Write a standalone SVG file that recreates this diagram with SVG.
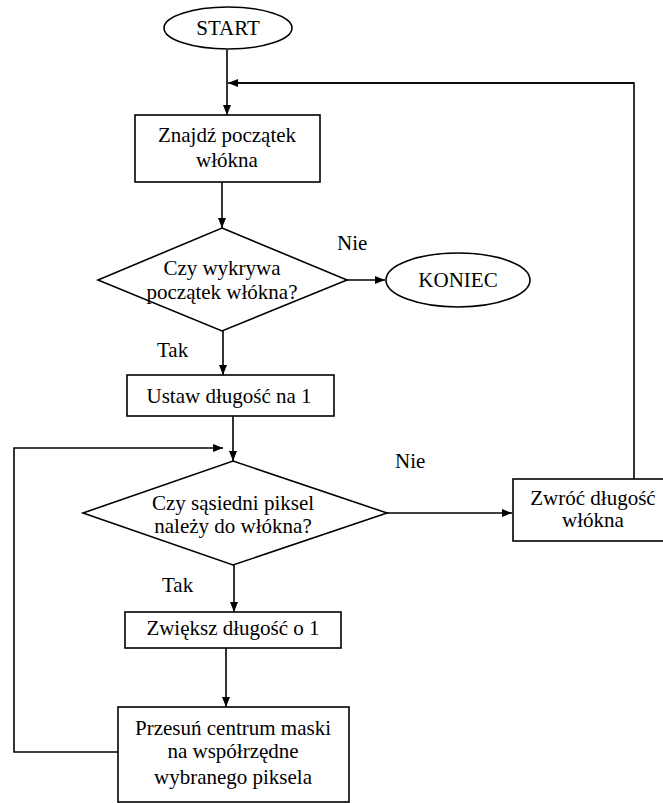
<svg xmlns="http://www.w3.org/2000/svg" width="663" height="803" viewBox="0 0 663 803">
  <style>
    .shape { fill: #ffffff; stroke: #000000; stroke-width: 1.6; }
    .edge { fill: none; stroke: #000000; stroke-width: 1.6; marker-end: url(#arrow); }
    .line { fill: none; stroke: #000000; stroke-width: 1.6; }
    .lbl { text-anchor: start; }
  </style>
  <defs>
    <marker id="arrow" viewBox="0 0 10 10" refX="10" refY="5" markerWidth="10" markerHeight="10" markerUnits="userSpaceOnUse" orient="auto">
      <path d="M0,1 L10,5 L0,9 Z" fill="#000000"/>
    </marker>
  </defs>
  <rect width="663" height="803" fill="#ffffff"/>

  <g font-family="Liberation Serif, DejaVu Serif, serif" font-size="21" fill="#000000" text-anchor="middle">
  <g id="connectors">
    <path class="edge" d="M227,50 V115"/>
    <path class="line" d="M634,479 V83 H238"/>
    <path class="edge" d="M634,83 H228"/>
    <path class="edge" d="M222,182 V228"/>
    <path class="edge" d="M347,280 H385"/>
    <path class="edge" d="M223,331 V375"/>
    <path class="edge" d="M233,416 V461"/>
    <path class="edge" d="M118,752 H14 V448 H223"/>
    <path class="edge" d="M387,513 H512"/>
    <path class="edge" d="M234,565 V612"/>
    <path class="edge" d="M226,648 V707"/>
    <text class="lbl" x="337" y="250">Nie</text>
    <text class="lbl" x="157" y="357">Tak</text>
    <text class="lbl" x="395" y="468">Nie</text>
    <text class="lbl" x="162" y="592">Tak</text>
  </g>

  <g id="start">
    <ellipse class="shape" cx="228" cy="28" rx="64" ry="21"/>
    <text x="228" y="35">START</text>
  </g>

  <g id="find-start">
    <rect class="shape" x="135" y="115" width="185" height="67"/>
    <text x="227" y="142">Znajdź początek</text>
    <text x="227" y="167">włókna</text>
  </g>

  <g id="detect-start">
    <polygon class="shape" points="222,228 347,280 222,331 98,280"/>
    <text x="222" y="275">Czy wykrywa</text>
    <text x="222" y="299">początek włókna?</text>
  </g>

  <g id="end">
    <ellipse class="shape" cx="458" cy="280" rx="72" ry="27"/>
    <text x="458" y="287">KONIEC</text>
  </g>

  <g id="set-length">
    <rect class="shape" x="127" y="375" width="207" height="41"/>
    <text x="229" y="403">Ustaw długość na 1</text>
  </g>

  <g id="neighbour-check">
    <polygon class="shape" points="233,461 387,513 233,565 83,513"/>
    <text x="233" y="510">Czy sąsiedni piksel</text>
    <text x="233" y="533">należy do włókna?</text>
  </g>

  <g id="return-length">
    <rect class="shape" x="513" y="479" width="160" height="62"/>
    <text x="593" y="505">Zwróć długość</text>
    <text x="593" y="527">włókna</text>
  </g>

  <g id="increment">
    <rect class="shape" x="125" y="612" width="216" height="36"/>
    <text x="233" y="635">Zwiększ długość o 1</text>
  </g>

  <g id="move-mask">
    <rect class="shape" x="118" y="707" width="231" height="95"/>
    <text x="233" y="735">Przesuń centrum maski</text>
    <text x="233" y="758">na współrzędne</text>
    <text x="233" y="784">wybranego piksela</text>
  </g>
  </g>
</svg>
